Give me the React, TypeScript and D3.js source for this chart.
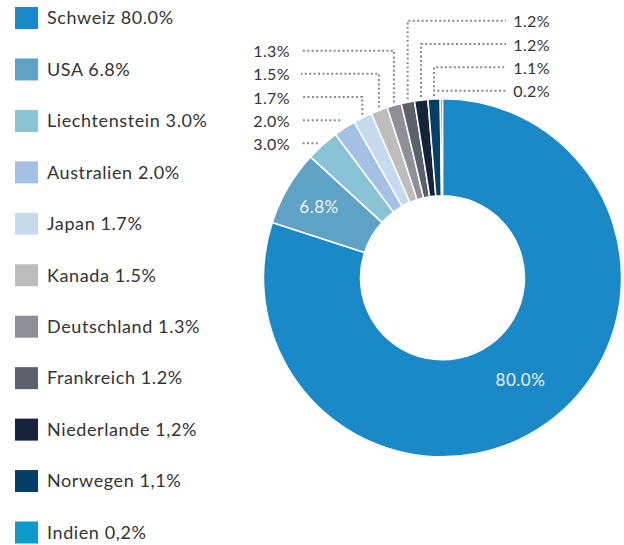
import React from "react";
import * as d3 from "d3";

const countries = ["Schweiz", "USA", "Liechtenstein", "Australien", "Japan", "Kanada", "Deutschland", "Frankreich", "Niederlande", "Norwegen", "Indien"];
const values = [80.0, 6.8, 3.0, 2.0, 1.7, 1.5, 1.3, 1.2, 1.2, 1.1, 0.2];
const legendLabels = ["Schweiz 80.0%", "USA 6.8%", "Liechtenstein 3.0%", "Australien 2.0%", "Japan 1.7%", "Kanada 1.5%", "Deutschland 1.3%", "Frankreich 1.2%", "Niederlande 1,2%", "Norwegen 1,1%", "Indien 0,2%"];
const sliceLabels = ["80.0%", "6.8%", "3.0%", "2.0%", "1.7%", "1.5%", "1.3%", "1.2%", "1.2%", "1.1%", "0.2%"];
const colors = ["#1a89c8", "#5ea3c6", "#88c4d5", "#a5c0e5", "#c6dbee", "#bdbdbd", "#8f8f98", "#5b6169", "#17233d", "#033f69", "#0b9bcb"];
// which slices get an inside label vs. an outside leader label
const insideIdx = [0, 1];
const leftIdx = [6, 5, 4, 3, 2];
const rightIdx = [7, 8, 9, 10];

const W = 624, H = 545;
const cx = 442.5, cy = 277.8, R = 179, r0 = 82;
const FONT = "Lato, 'Open Sans', sans-serif";

export default function App() {
  const pie = d3.pie<number>().sort(null).value((d) => d).startAngle(0).endAngle(2 * Math.PI);
  const arcs = pie(values);
  const arcGen = d3.arc<d3.PieArcDatum<number>>().innerRadius(r0).outerRadius(R);
  const labelArc = d3.arc<d3.PieArcDatum<number>>().innerRadius(136).outerRadius(136);

  const legendY = d3.scaleLinear().domain([0, countries.length - 1]).range([7, 7 + 51.45 * 10]);
  const leftY = d3.scaleLinear().domain([0, 4]).range([50.7, 143.3]);
  const rightY = d3.scaleLinear().domain([0, 3]).range([20.7, 90.7]);

  const outerPt = (i: number) => {
    const a = (arcs[i].startAngle + arcs[i].endAngle) / 2;
    return [cx + (R + 1) * Math.sin(a), cy - (R + 1) * Math.cos(a)];
  };

  const leader = (i: number, ly: number, xEnd: number) => {
    const [x, y] = outerPt(i);
    const pts: [number, number][] = [];
    if (y - ly > 8) {
      pts.push([x, y - 2]);
      pts.push([x, ly]);
    } else {
      pts.push([x - 4, ly]);
    }
    pts.push([xEnd, ly]);
    return d3.line()(pts) as string;
  };

  return (
    <svg width={W} height={H} style={{ position: "absolute", left: 0, top: 0 }}>
      <rect width={W} height={H} fill="#ffffff" />
      {/* legend */}
      {countries.map((c, i) => (
        <g key={c}>
          <rect x={15} y={legendY(i)} width={23} height={22} fill={colors[i]} />
          <text x={47} y={legendY(i) + 11} dy="0.35em" fontFamily={FONT} fontSize={18} letterSpacing={0.6} fill="#333">
            {legendLabels[i]}
          </text>
        </g>
      ))}
      {/* donut */}
      <g transform={`translate(${cx},${cy})`}>
        {arcs.map((a, i) => (
          <path key={i} d={arcGen(a) as string} fill={colors[i]} stroke="#fff" strokeWidth={1.5} />
        ))}
        {insideIdx.map((i) => {
          const [x, y] = labelArc.centroid(arcs[i]);
          return (
            <text key={i} x={x + (i === 1 ? -6 : -2)} y={y + (i === 0 ? -8 : -2)} dy="0.35em" textAnchor="middle" fontFamily={FONT} fontSize={17} letterSpacing={0.5} fill="#eef4fa">
              {sliceLabels[i]}
            </text>
          );
        })}
      </g>
      {/* leader lines */}
      {leftIdx.map((i, k) => (
        <g key={"l" + i}>
          <path d={leader(i, leftY(k), 301)} fill="none" stroke="#8a8a8a" strokeWidth={2} strokeDasharray="2 2.4" />
          <text x={290} y={leftY(k) + 1} dy="0.35em" textAnchor="end" fontFamily={FONT} fontSize={16} letterSpacing={0.4} fill="#333">
            {sliceLabels[i]}
          </text>
        </g>
      ))}
      {rightIdx.map((i, k) => (
        <g key={"r" + i}>
          <path d={leader(i, rightY(k), 506)} fill="none" stroke="#8a8a8a" strokeWidth={2} strokeDasharray="2 2.4" />
          <text x={550} y={rightY(k) + 1} dy="0.35em" textAnchor="end" fontFamily={FONT} fontSize={16} letterSpacing={0.4} fill="#333">
            {sliceLabels[i]}
          </text>
        </g>
      ))}
    </svg>
  );
}
